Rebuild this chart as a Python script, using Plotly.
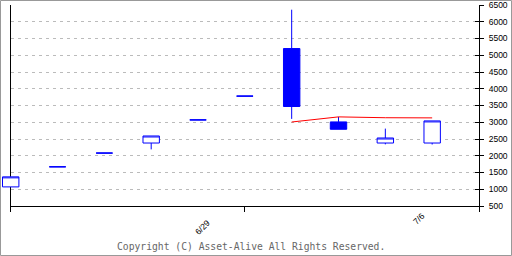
import plotly.graph_objects as go

# Data
dates = ["6/23", "6/24", "6/25", "6/26", "6/29", "6/30", "7/1", "7/2", "7/3", "7/6"]
x_idx = list(range(len(dates)))
opens = [1070, 1670, 2080, 2380, 3070, 3780, 5200, 3010, 2380, 2380]
highs = [1370, 1670, 2080, 2590, 3070, 3780, 6360, 3160, 2810, 3040]
lows = [1070, 1670, 2080, 2190, 3070, 3780, 3100, 2790, 2340, 2335]
closes = [1370, 1670, 2080, 2590, 3070, 3780, 3470, 2790, 2530, 3040]
ma_x = [6, 7, 8, 9]
ma_vals = [3007, 3160, 3135, 3130]
label_pos = [4, 9]
label_text = ["6/29", "7/6"]
y_ticks = list(range(500, 7000, 500))
y_range = [499.9, 6500.1]

L, R, T, B = 1, 33, 5, 50
W, H = 512, 256
pw, ph = W - L - R, H - T - B
axis_left_px = 10.7          # pixel position of x = 0 (left axis)
d0 = (axis_left_px - L) / pw  # domain start of main x axis
unit_px = (pw - (axis_left_px - L)) / 10.0
x2_min = -(axis_left_px - L) / unit_px

fig = go.Figure()
fig.add_trace(go.Candlestick(
    x=x_idx, open=opens, high=highs, low=lows, close=closes,
    increasing=dict(line=dict(color="#0000FF", width=1), fillcolor="#FFFFFF"),
    decreasing=dict(line=dict(color="#0000FF", width=1), fillcolor="#0000FF"),
    whiskerwidth=0, showlegend=False, hoverinfo="skip",
    xaxis="x2", yaxis="y3",
))
fig.add_trace(go.Scatter(
    x=ma_x, y=ma_vals, mode="lines",
    line=dict(color="#FF0000", width=1), showlegend=False, hoverinfo="skip",
    xaxis="x2", yaxis="y3",
))
# Dummy traces to activate main axes
fig.add_trace(go.Scatter(x=[None], y=[None], showlegend=False, hoverinfo="skip"))
fig.add_trace(go.Scatter(x=[None], y=[None], yaxis="y2", showlegend=False, hoverinfo="skip"))

fig.update_layout(
    width=W, height=H,
    margin=dict(l=L, r=R, t=T, b=B, pad=0),
    paper_bgcolor="#FFFFFF", plot_bgcolor="rgba(0,0,0,0)",
    boxgap=0.65, boxgroupgap=0,
    xaxis=dict(
        domain=[d0, 1], range=[0, 10], tickvals=[0, 5, 10], ticktext=["", "", ""],
        ticks="outside", ticklen=5, tickcolor="#000000", tickwidth=1,
        showline=True, linecolor="#000000", linewidth=1,
        showgrid=False, zeroline=False, fixedrange=True,
    ),
    yaxis=dict(
        range=y_range, side="right", tickvals=y_ticks,
        ticks="outside", ticklen=4, tickcolor="#000000", tickwidth=1,
        showline=True, linecolor="#000000", linewidth=1, mirror=True,
        showgrid=True, gridcolor="#BBBBBB", griddash="3px,4px", gridwidth=1,
        zeroline=False, ticklabelstandoff=3, ticklabeloverflow="allow",
        tickfont=dict(family="Liberation Sans, Arial", size=8.5, color="#000000"),
    ),
    yaxis2=dict(
        range=y_range, side="right", overlaying="y", tickvals=y_ticks,
        ticks="inside", ticklen=4, tickcolor="#000000", showticklabels=False,
        showgrid=False, zeroline=False, showline=False,
    ),
    xaxis2=dict(
        domain=[0, 1], range=[x2_min, 10], anchor="y3", visible=False,
        rangeslider=dict(visible=False), showgrid=False, zeroline=False,
    ),
    yaxis3=dict(
        domain=[0, 1], range=y_range, anchor="x2", visible=False,
        showgrid=False, zeroline=False,
    ),
)

# X date labels (rotated)
label_offsets = [(0.1, -21), (-0.29, -13)]
for pos, txt, (dx, dy) in zip(label_pos, label_text, label_offsets):
    fig.add_annotation(
        x=pos + dx, y=0, xref="x", yref="paper", yshift=dy,
        text=txt, showarrow=False, textangle=-45,
        font=dict(family="Liberation Sans, Arial", size=8.5, color="#000000"),
        xanchor="center", yanchor="middle",
    )

# Copyright
fig.add_annotation(
    x=(251.5 - L) / pw, y=(206 - 246) / ph, xref="paper", yref="paper",
    text="Copyright (C) Asset-Alive All Rights Reserved.", showarrow=False,
    font=dict(family="DejaVu Sans Mono", size=9.7, color="#666666"),
    xanchor="center", yanchor="middle",
)

# Outer frame
fig.add_shape(
    type="rect", xref="paper", yref="paper",
    x0=(0.5 - L) / pw, x1=(511.5 - L) / pw,
    y0=(206 - 255.5) / ph, y1=(206 - 0.5) / ph,
    line=dict(color="#999999", width=1), fillcolor="rgba(0,0,0,0)", layer="above",
)

fig.write_html("out.html")
